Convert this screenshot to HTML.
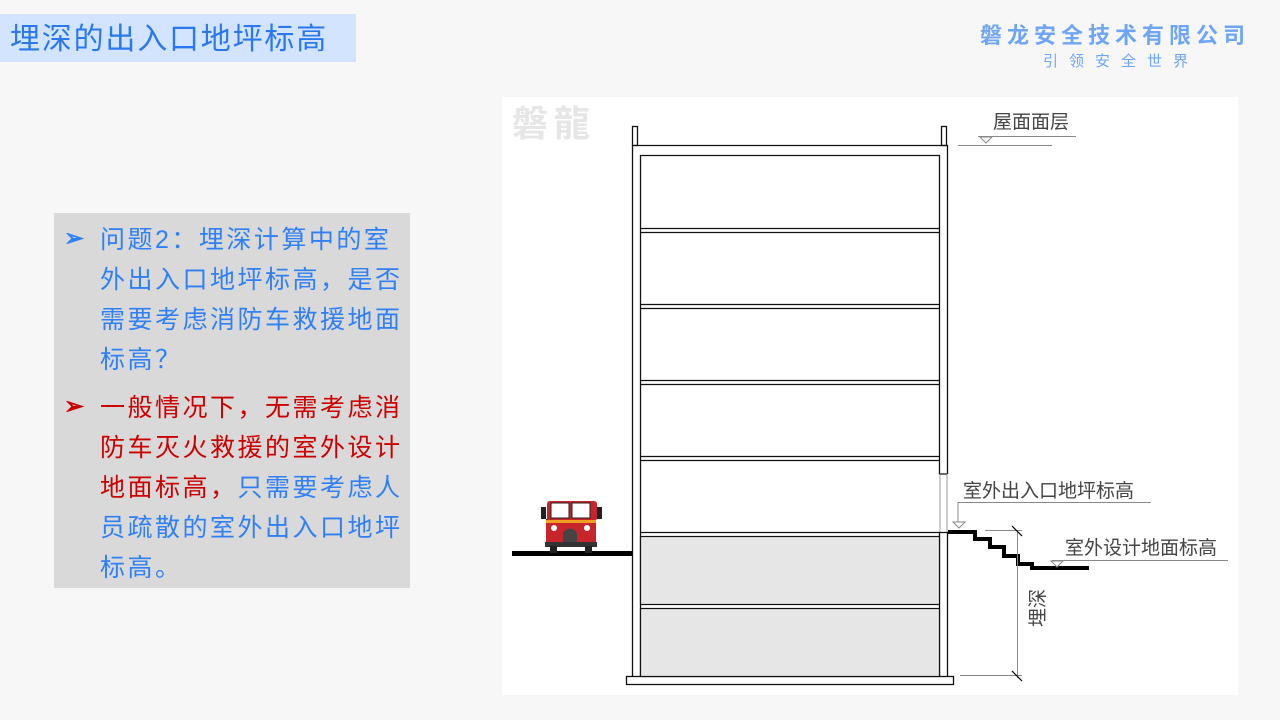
<!DOCTYPE html>
<html><head><meta charset="utf-8"><style>
body{margin:0;width:1280px;height:720px;background:#f7f7f7;position:relative;overflow:hidden;font-family:"Liberation Sans","Noto Sans CJK SC",sans-serif}
.title{position:absolute;left:0;top:14px;width:356px;height:48px;background:#d2e4ff;color:#2a78f0;font-size:30px;letter-spacing:1.8px;line-height:52px;padding-left:10px;box-sizing:border-box;white-space:nowrap}
.logo1{position:absolute;left:980px;top:18px;font-size:22px;font-weight:bold;color:#6fa5f5;letter-spacing:5px;white-space:nowrap}
.logo2{position:absolute;left:1043px;top:50px;font-size:15px;color:#6fa5f5;letter-spacing:11px}
.panel{position:absolute;left:54px;top:213px;width:356px;height:375px;background:#d9d9d9}
.p{position:absolute;left:100px;font-size:25px;line-height:40px;letter-spacing:2.5px;color:#2f7ff5}
.b{position:absolute;left:64px;font-size:24px;font-weight:bold}
.diag{position:absolute;left:502px;top:97px;width:736px;height:598px;background:#fff}
</style></head><body>
<div class="title">埋深的出入口地坪标高</div>
<div class="logo1">磐龙安全技术有限公司</div>
<div class="logo2">引领安全世界</div>
<div class="panel"></div>
<div class="b" style="top:224px;color:#2f7ff5">➢</div>
<div class="p" style="top:220px">问题2：埋深计算中的室<br>外出入口地坪标高，是否<br>需要考虑消防车救援地面<br>标高？</div>
<div class="b" style="top:392px;color:#cc0000">➢</div>
<div class="p" style="top:388px"><span style="color:#cc0000">一般情况下，无需考虑消<br>防车灭火救援的室外设计<br>地面标高，</span>只需要考虑人<br>员疏散的室外出入口地坪<br>标高。</div>
<div class="diag"></div>
<svg width="1280" height="720" style="position:absolute;left:0;top:0" font-family="Liberation Sans,Noto Sans CJK SC,sans-serif">
<text x="512" y="136" font-size="36" font-weight="bold" fill="#e6e6e6" letter-spacing="6">磐龍</text>
<g fill="none" stroke="#111" stroke-width="1.3">
<rect x="632.5" y="126.5" width="5" height="19"/>
<rect x="941.5" y="126.5" width="5" height="19"/>
<polyline points="632.5,676 632.5,145.5 947.5,145.5 947.5,474"/>
<polyline points="939.5,155 939.5,474 947.5,474"/>
<line x1="940" y1="474" x2="940" y2="533" stroke="#999" stroke-width="1"/>
<line x1="947" y1="474" x2="947" y2="533" stroke="#999" stroke-width="1"/>
<line x1="640.5" y1="155" x2="640.5" y2="676"/>
<line x1="947.5" y1="533" x2="947.5" y2="676"/>
<line x1="939.5" y1="533" x2="939.5" y2="676"/>
<rect x="626.5" y="676.5" width="327" height="8"/>
</g>
<g fill="#e6e6e6" stroke="#111" stroke-width="1.2">
<rect x="640.5" y="536.5" width="299" height="68"/>
<rect x="640.5" y="608.5" width="299" height="68"/>
</g>
<g stroke="#111" stroke-width="1.2">
<line x1="640" y1="155.5" x2="940" y2="155.5"/>
<line x1="640" y1="228.5" x2="940" y2="228.5"/><line x1="640" y1="232.5" x2="940" y2="232.5"/>
<line x1="640" y1="304.5" x2="940" y2="304.5"/><line x1="640" y1="308.5" x2="940" y2="308.5"/>
<line x1="640" y1="380.5" x2="940" y2="380.5"/><line x1="640" y1="384.5" x2="940" y2="384.5"/>
<line x1="640" y1="456.5" x2="940" y2="456.5"/><line x1="640" y1="460.5" x2="940" y2="460.5"/>
<line x1="640" y1="532.5" x2="948" y2="532.5"/>
</g>
<rect x="512" y="551" width="120" height="5" fill="#000"/>
<polyline points="948,532 975,532 975,539 990,539 990,547 1004,547 1004,556 1018,556 1018,564 1032,564 1032,568 1089,568" fill="none" stroke="#000" stroke-width="4"/>
<g stroke="#888" stroke-width="1" fill="none">
<line x1="958" y1="145.5" x2="1052" y2="145.5"/>
<line x1="978" y1="136.5" x2="1076" y2="136.5"/>
<polygon points="980,137 992,137 986,143"/>
<line x1="958" y1="502.5" x2="1151" y2="502.5"/>
<line x1="958" y1="502" x2="958" y2="522"/>
<polygon points="953,522 965,522 959,528"/>
<line x1="1052" y1="560.5" x2="1228" y2="560.5"/>
<polygon points="1051,561 1063,561 1057,567"/>
<line x1="1017.5" y1="530" x2="1017.5" y2="678"/>
<line x1="985" y1="530.5" x2="1022" y2="530.5"/>
<line x1="960" y1="675.5" x2="1022" y2="675.5"/>
</g>
<g stroke="#000" stroke-width="1.2"><line x1="1012" y1="526" x2="1022" y2="536"/><line x1="1012" y1="671" x2="1022" y2="681"/></g>
<g font-size="19" fill="#444">
<text x="993" y="128">屋面面层</text>
<text x="963" y="497">室外出入口地坪标高</text>
<text x="1065" y="554">室外设计地面标高</text>
<text transform="translate(1044,627) rotate(-90)" font-size="19">埋深</text>
</g>
<g>
<rect x="546" y="519" width="48" height="10" fill="#333"/>
<rect x="547" y="501" width="50" height="20" rx="3" fill="#c8242c"/>
<rect x="541" y="507" width="5" height="12" fill="#222"/><rect x="597" y="507" width="5" height="12" fill="#222"/>
<rect x="551" y="503" width="18" height="15" fill="#fff" stroke="#222"/><rect x="572" y="503" width="18" height="15" fill="#fff" stroke="#222"/>
<rect x="546" y="520" width="50" height="3" fill="#f0a020"/>
<rect x="546" y="523" width="50" height="19" fill="#c8242c"/>
<circle cx="554" cy="528" r="3" fill="#fff"/><circle cx="587" cy="528" r="3" fill="#fff"/>
<path d="M563 545 v-12 q7-9 14 0 v12z" fill="#444"/>
<rect x="545" y="542" width="52" height="5" fill="#333"/>
<rect x="550" y="546" width="7" height="7" fill="#222"/><rect x="585" y="546" width="7" height="7" fill="#222"/>
</g>
</svg>
</body></html>
